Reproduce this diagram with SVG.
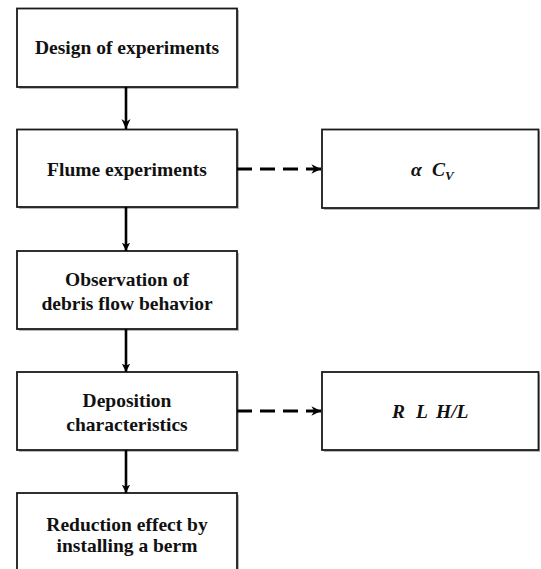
<svg xmlns="http://www.w3.org/2000/svg" width="541" height="569" viewBox="0 0 541 569">
<defs>
<marker id="ah" viewBox="0 0 10 10" refX="10" refY="5" markerWidth="3.2" markerHeight="3.2" orient="auto" markerUnits="strokeWidth">
<path d="M0,0 L10,5 L0,10 L2.5,5 z" fill="#000"/>
</marker>
<marker id="ahd" viewBox="0 0 10 10" refX="10" refY="5" markerWidth="3" markerHeight="3" orient="auto" markerUnits="strokeWidth">
<path d="M0,0 L10,5 L0,10 L3,5 z" fill="#000"/>
</marker>
</defs>
<style>
.shadow{fill:#b8b8b8;}
.box{fill:#fff;stroke:#1a1a1a;stroke-width:1.8;}
.t{font-family:"Liberation Serif","Times New Roman",serif;font-weight:bold;font-size:19.5px;fill:#111;text-anchor:middle;}
.ti{font-style:italic;text-anchor:start;}
.solid{stroke:#000;stroke-width:2.6;fill:none;}
.dash{stroke:#000;stroke-width:3.2;fill:none;stroke-dasharray:15 8;}
</style>
<rect width="541" height="569" fill="#fff"/>
<g id="n1">
<rect class="shadow" x="19" y="10" width="220" height="79"/>
<rect class="box" x="17" y="8.5" width="220" height="78.5"/>
<text class="t" x="127" y="54">Design of experiments</text>
</g>
<g id="n2">
<rect class="shadow" x="19" y="131" width="220" height="78"/>
<rect class="box" x="17" y="129.5" width="220" height="77.5"/>
<text class="t" x="127" y="176">Flume experiments</text>
</g>
<g id="n3">
<rect class="shadow" x="19" y="253" width="220" height="78"/>
<rect class="box" x="17" y="251" width="220" height="78"/>
<text class="t" x="127" y="286">Observation of</text>
<text class="t" x="127" y="310">debris flow behavior</text>
</g>
<g id="n4">
<rect class="shadow" x="19" y="374" width="220" height="78"/>
<rect class="box" x="17" y="372" width="220" height="78"/>
<text class="t" x="127" y="407">Deposition</text>
<text class="t" x="127" y="431">characteristics</text>
</g>
<g id="n5">
<rect class="shadow" x="19" y="495" width="220" height="78"/>
<rect class="box" x="17" y="493" width="220" height="78"/>
<text class="t" x="127" y="531">Reduction effect by</text>
<text class="t" x="127" y="552">installing a berm</text>
</g>
<g id="r1">
<rect class="shadow" x="324" y="131" width="216" height="79"/>
<rect class="box" x="322" y="129.5" width="216.5" height="78.5"/>
<text class="t ti" x="411" y="176">α<tspan x="432">C</tspan><tspan font-size="13px" dy="4">V</tspan></text>
</g>
<g id="r2">
<rect class="shadow" x="324" y="374" width="216" height="78"/>
<rect class="box" x="322" y="372" width="216.5" height="78"/>
<text class="t ti" x="392" y="418">R<tspan x="416">L</tspan><tspan x="436">H/L</tspan></text>
</g>
<g id="connectors">
<line class="solid" x1="126" y1="87" x2="126" y2="129"/>
<line class="solid" x1="126" y1="207" x2="126" y2="251" marker-end="url(#ah)"/>
<line class="solid" x1="126" y1="329" x2="126" y2="372" marker-end="url(#ah)"/>
<line class="solid" x1="126" y1="450" x2="126" y2="493" marker-end="url(#ah)"/>
<path d="M121.5,119 L126,129 L130.5,119 L126,122 z" fill="#000"/>
<line class="dash" x1="237" y1="169" x2="321" y2="169" marker-end="url(#ahd)"/>
<line class="dash" x1="237" y1="411" x2="321" y2="411" marker-end="url(#ahd)"/>
</g>
</svg>
